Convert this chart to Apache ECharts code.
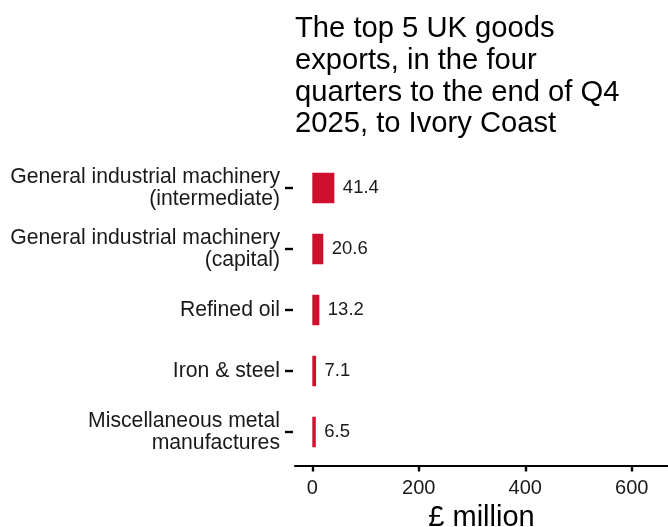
<!DOCTYPE html>
<html>
<head>
<meta charset="utf-8">
<script src="https://cdn.jsdelivr.net/npm/echarts@6/dist/echarts.min.js"></script>
<style>
  html, body { margin: 0; padding: 0; background: #ffffff; }
  #chart { width: 668px; height: 527px; }
</style>
</head>
<body>
<div id="chart"></div>
<script>
// Top five goods exports, largest first
const categories = [
  'General industrial machinery\n(intermediate)',
  'General industrial machinery\n(capital)',
  'Refined oil',
  'Iron & steel',
  'Miscellaneous metal\nmanufactures'
];
const values = [41.4, 20.6, 13.2, 7.1, 6.5];
const xTicks = [0, 200, 400, 600];

const titleText = 'The top 5 UK goods\nexports, in the four\nquarters to the end of Q4\n2025, to Ivory Coast';
const axisTitle = '£ million';

const FONT = '"Liberation Sans", Arial, sans-serif';
const BAR = '#cf102d';

const chart = echarts.init(document.getElementById('chart'), null, { renderer: 'canvas' });

chart.setOption({
  animation: false,
  backgroundColor: '#ffffff',
  title: {
    text: titleText,
    left: 290,
    top: 8.5,
    textStyle: {
      fontFamily: FONT,
      fontSize: 29.2,
      fontWeight: 'normal',
      lineHeight: 31.6,
      color: '#000000'
    }
  },
  grid: {
    left: 295,
    right: 0,
    top: 157.5,
    bottom: 64.5,
    containLabel: false,
    outerBoundsMode: 'none'
  },
  xAxis: {
    type: 'value',
    min: -32.5,
    max: 668,
    offset: 3,
    name: axisTitle,
    nameLocation: 'middle',
    nameGap: 36,
    nameTextStyle: { fontFamily: FONT, fontSize: 29, color: '#000000' },
    axisLine: { show: true, onZero: false, lineStyle: { color: '#000000', width: 2.2 } },
    axisTick: {
      show: true,
      length: 6,
      customValues: xTicks,
      lineStyle: { color: '#000000', width: 2.4 }
    },
    axisLabel: {
      customValues: xTicks,
      margin: 13,
      fontFamily: FONT,
      fontSize: 20,
      color: '#1a1a1a'
    },
    splitLine: { show: false }
  },
  yAxis: {
    type: 'category',
    data: categories,
    inverse: true,
    offset: 2,
    axisLine: { show: false, onZero: false },
    axisTick: {
      show: true,
      alignWithLabel: true,
      length: 8,
      lineStyle: { color: '#000000', width: 2.4 }
    },
    axisLabel: {
      margin: 13,
      fontFamily: FONT,
      fontSize: 21.2,
      lineHeight: 22.5,
      color: '#1a1a1a',
      align: 'right'
    },
    splitLine: { show: false }
  },
  series: [{
    type: 'bar',
    data: values,
    barWidth: '50%',
    itemStyle: { color: BAR },
    label: {
      show: true,
      position: 'right',
      distance: 8.5,
      fontFamily: FONT,
      fontSize: 18.5,
      color: '#1a1a1a',
      formatter: p => p.value.toFixed(1)
    }
  }]
});
</script>
</body>
</html>
